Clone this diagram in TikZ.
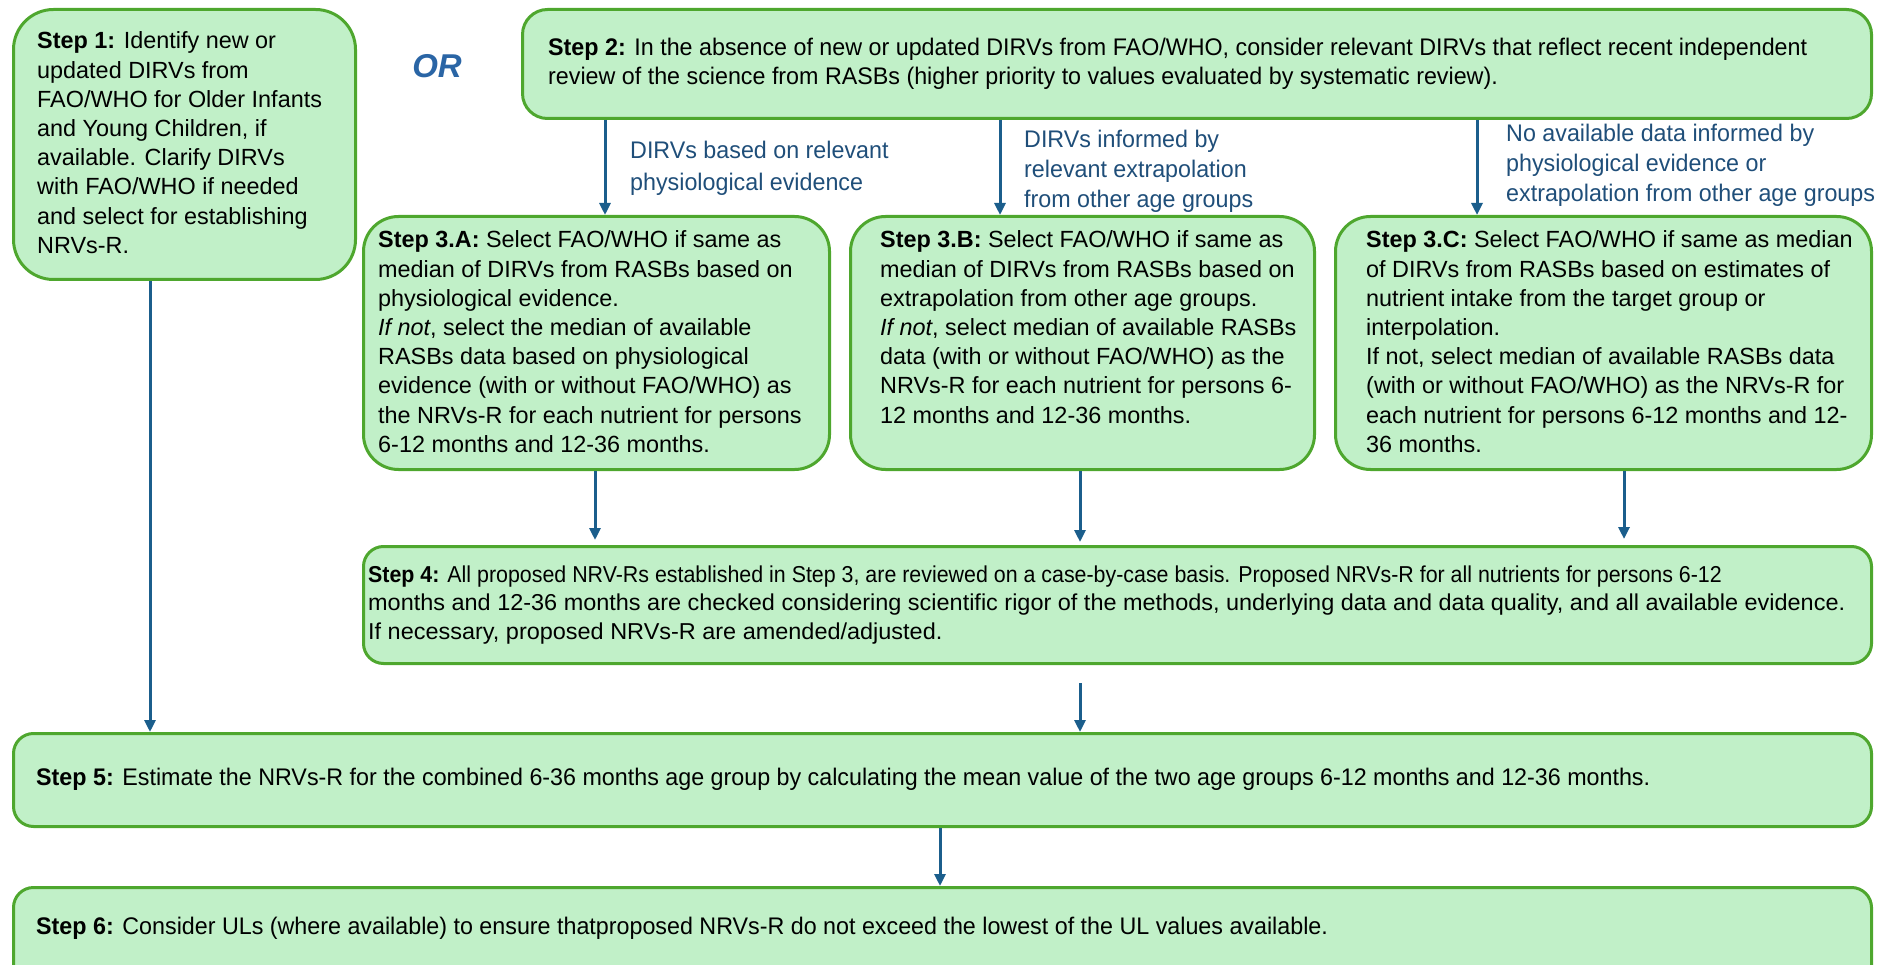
\documentclass[tikz,border=0pt]{standalone}
\usepackage{fontspec}
\setmainfont{Liberation Sans}
\newfontfamily\nfont[FakeStretch=0.97]{Liberation Sans}
\newfontfamily\nfontb[FakeStretch=0.93]{Liberation Sans}
\newfontfamily\nfontc[FakeStretch=1.02]{Liberation Sans}
\usetikzlibrary{arrows.meta}
\definecolor{boxfill}{HTML}{C1F0C8}
\definecolor{boxline}{HTML}{4EA72E}
\definecolor{arrowc}{HTML}{1B5E8C}
\definecolor{labc}{HTML}{1F4E79}
\definecolor{orc}{HTML}{2A65A5}
\newcommand{\ltab}[1]{\begin{tabular}[t]{@{}l@{}}#1\end{tabular}}
\begin{document}
\begin{tikzpicture}[x=1pt,y=-1pt,
  stepbox/.style={draw=boxline, fill=boxfill, line width=3pt, anchor=north west, inner sep=0pt},
  txt/.style={anchor=base west, inner sep=0pt, font=\fontsize{23.4}{29.2}\selectfont},
  ntxt/.style={anchor=base west, inner sep=0pt, font=\nfont\fontsize{24}{29}\selectfont},
  ntxtb/.style={anchor=base west, inner sep=0pt, font=\nfontb\fontsize{23}{28.5}\selectfont},
  lab/.style={anchor=base west, inner sep=0pt, text=labc, font=\nfont\fontsize{24}{30}\selectfont},
  arr/.style={draw=arrowc, line width=3pt, -{Triangle[width=11pt,length=12pt]}}
]
\useasboundingbox (0,0) rectangle (1892,965);
\clip (0,0) rectangle (1892,965);

% boxes
\node[stepbox, rounded corners=40pt, minimum width=342pt, minimum height=270pt] (s1) at (12,8) {};
\node[stepbox, rounded corners=25pt, minimum width=1349pt, minimum height=109pt] (s2) at (521,8) {};
\node[stepbox, rounded corners=35pt, minimum width=466pt, minimum height=253pt] (s3a) at (362,215) {};
\node[stepbox, rounded corners=35pt, minimum width=464pt, minimum height=253pt] (s3b) at (849,215) {};
\node[stepbox, rounded corners=35pt, minimum width=536pt, minimum height=253pt] (s3c) at (1334,215) {};
\node[stepbox, rounded corners=20pt, minimum width=1508pt, minimum height=117pt] (s4) at (362,545) {};
\node[stepbox, rounded corners=20pt, minimum width=1858pt, minimum height=93pt] (s5) at (12,732) {};
\node[stepbox, rounded corners=20pt, minimum width=1858pt, minimum height=130pt] (s6) at (12,886) {};

% texts
\node[txt] (t1) at (37,49) {\ltab{\textbf{Step 1:} Identify new or\\updated DIRVs from\\FAO/WHO for Older Infants\\and Young Children, if\\available. Clarify DIRVs\\with FAO/WHO if needed\\and select for establishing\\NRVs-R.}};
\node[font=\bfseries\itshape\fontsize{33}{36}\selectfont, text=orc, inner sep=0pt] (or) at (437,66) {OR};
\node[ntxt] (t2) at (548,56) {\ltab{\textbf{Step 2:} In the absence of new or updated DIRVs from FAO/WHO, consider relevant DIRVs that reflect recent independent\\review of the science from RASBs (higher priority to values evaluated by systematic review).}};
\node[txt] (t3a) at (378,248) {\ltab{\textbf{Step 3.A:} Select FAO/WHO if same as\\median of DIRVs from RASBs based on\\physiological evidence.\\\textit{If not}, select the median of available\\RASBs data based on physiological\\evidence (with or without FAO/WHO) as\\the NRVs-R for each nutrient for persons\\6-12 months and 12-36 months.}};
\node[txt] (t3b) at (880,248) {\ltab{\textbf{Step 3.B:} Select FAO/WHO if same as\\median of DIRVs from RASBs based on\\extrapolation from other age groups.\\\textit{If not}, select median of available RASBs\\data (with or without FAO/WHO) as the\\NRVs-R for each nutrient for persons 6-\\12 months and 12-36 months.}};
\node[txt] (t3c) at (1366,248) {\ltab{\textbf{Step 3.C:} Select FAO/WHO if same as median\\of DIRVs from RASBs based on estimates of\\nutrient intake from the target group or\\interpolation.\\If not, select median of available RASBs data\\(with or without FAO/WHO) as the NRVs-R for\\each nutrient for persons 6-12 months and 12-\\36 months.}};
\node[ntxtb] (t4) at (368,582) {\ltab{\textbf{Step 4:} All proposed NRV-Rs established in Step 3, are reviewed on a case-by-case basis. Proposed NRVs-R for all nutrients for persons 6-12\\\nfontc months and 12-36 months are checked considering scientific rigor of the methods, underlying data and data quality, and all available evidence.\\\nfontc If necessary, proposed NRVs-R are amended/adjusted.}};
\node[ntxt] (t5) at (36,785) {\textbf{Step 5:} Estimate the NRVs-R for the combined 6-36 months age group by calculating the mean value of the two age groups 6-12 months and 12-36 months.};
\node[ntxt] (t6) at (36,934) {\textbf{Step 6:} Consider ULs (where available) to ensure thatproposed NRVs-R do not exceed the lowest of the UL values available.};

% labels
\node[lab, font=\nfont\fontsize{24}{31.5}\selectfont] (l1) at (630,159) {\ltab{DIRVs based on relevant\\physiological evidence}};
\node[lab] (l2) at (1024,148) {\ltab{DIRVs informed by\\relevant extrapolation\\from other age groups}};
\node[lab] (l3) at (1506,142) {\ltab{No available data informed by\\physiological evidence or\\extrapolation from other age groups}};

% arrow x positions
\coordinate (xa) at (605,0);
\coordinate (xb) at (1000,0);
\coordinate (xc) at (1477,0);
\coordinate (ya) at (595,0);
\coordinate (yb) at (1080,0);
\coordinate (yc) at (1624,0);
\coordinate (x1) at (150,0);
\coordinate (x5) at (940,0);
\coordinate (f0) at (1080,683);

\draw[arr] (s1.south -| x1) -- (s5.north -| x1);
\draw[arr] (s2.south -| xa) -- (s3a.north -| xa);
\draw[arr] (s2.south -| xb) -- (s3b.north -| xb);
\draw[arr] (s2.south -| xc) -- (s3c.north -| xc);
\draw[arr, shorten >=5pt] (s3a.south -| ya) -- (s4.north -| ya);
\draw[arr, shorten >=3pt] (s3b.south -| yb) -- (s4.north -| yb);
\draw[arr, shorten >=6pt] (s3c.south -| yc) -- (s4.north -| yc);
\draw[arr] (f0) -- (s5.north -| f0);
\draw[arr] (s5.south -| x5) -- (s6.north -| x5);
\end{tikzpicture}
\end{document}
